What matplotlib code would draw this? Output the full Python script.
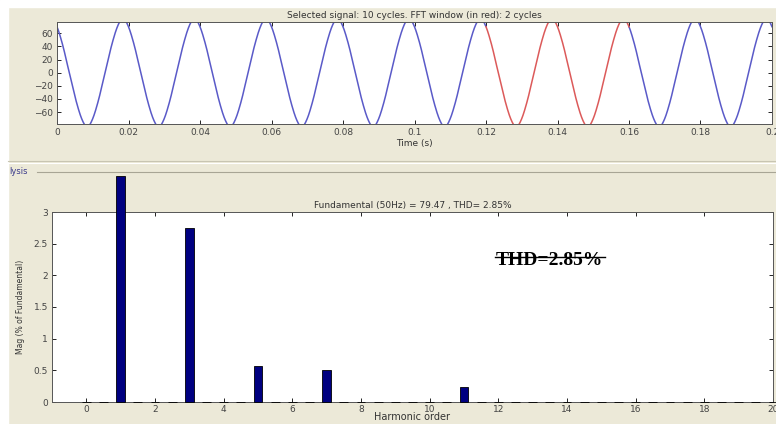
import numpy as np
import matplotlib
matplotlib.use("Agg")
import matplotlib.pyplot as plt

# signal settings
fundamental_amp = 79.47
fund_freq = 50.0
phase_deg = 28.0
t_end = 0.2
fft_window = (0.12, 0.16)

# harmonic spectrum (% of fundamental)
harm_orders = [1, 3, 5, 7, 11]
harm_mags = [3.57, 2.74, 0.57, 0.50, 0.23]
thd = 2.85

time_ticks = [0, 0.02, 0.04, 0.06, 0.08, 0.1, 0.12, 0.14, 0.16, 0.18, 0.2]
sig_ticks = [-60, -40, -20, 0, 20, 40, 60]
order_ticks = [0, 2, 4, 6, 8, 10, 12, 14, 16, 18, 20]
mag_ticks = [0, 0.5, 1, 1.5, 2, 2.5, 3]

bg = "#ece9d8"
blue_line = "#5a5ac8"
red_line = "#dc5a5a"
bar_color = "#000080"

plt.rcParams["font.family"] = ["DejaVu Sans"]

fig = plt.figure(figsize=(7.76, 4.24), dpi=100, facecolor=bg)
W, H = 776, 424


def px_axes(l, t, r, b):
    return fig.add_axes([l / W, 1 - b / H, (r - l) / W, (b - t) / H])


# white margin on top/left
fig.patches.append(plt.Rectangle((0, 1 - 7 / H), 1, 7 / H, transform=fig.transFigure,
                                 color="white", zorder=0))
fig.patches.append(plt.Rectangle((0, 0), 8 / W, 1, transform=fig.transFigure,
                                 color="white", zorder=0))

# panel separators
for y, c in [(161, "#c8c5b2"), (163, "#ffffff"), (172, "#a8a595")]:
    fig.add_artist(plt.Line2D([8 / W if y != 172 else 37 / W, 1], [1 - y / H] * 2,
                              transform=fig.transFigure, color=c, lw=0.8))
fig.text(9 / W, 1 - 171 / H, "lysis", fontsize=6, color="#3a3a8a", va="center")

# ---- time signal ----
ax1 = px_axes(57, 22, 772, 124)
t = np.linspace(0, t_end, 4001)
sig = fundamental_amp * np.cos(2 * np.pi * fund_freq * t + np.radians(phase_deg))
for h, m in zip(harm_orders[1:], harm_mags[1:]):
    sig += fundamental_amp * m / 100 * np.cos(2 * np.pi * fund_freq * h * t + np.radians(phase_deg) * h)

win = (t >= fft_window[0]) & (t <= fft_window[1])
ax1.plot(np.where(t <= fft_window[0], t, np.nan), sig, color=blue_line, lw=1.1)
ax1.plot(np.where(t >= fft_window[1], t, np.nan), sig, color=blue_line, lw=1.1)
ax1.plot(t[win], sig[win], color=red_line, lw=1.1)
ax1.set_xlim(0, t_end)
ax1.set_ylim(-78, 77)
ax1.set_xticks(time_ticks)
ax1.set_xticklabels(["0", "0.02", "0.04", "0.06", "0.08", "0.1", "0.12", "0.14",
                     "0.16", "0.18", "0.2"])
ax1.set_yticks(sig_ticks)
ax1.set_title("Selected signal: 10 cycles. FFT window (in red): 2 cycles",
              fontsize=6.5, color="#333333", pad=3)
ax1.set_xlabel("Time (s)", fontsize=6.5, color="#333333", labelpad=1)

# ---- harmonic spectrum ----
ax2 = px_axes(52, 212, 773, 402)
orders = np.arange(0, 20.5, 0.5)
mags = np.zeros_like(orders)
for h, m in zip(harm_orders, harm_mags):
    mags[orders == h] = m
ax2.bar(orders, mags, width=0.26, color=bar_color, edgecolor="black", lw=0.6,
        clip_on=False, zorder=3)
ax2.set_xlim(-1, 20)
ax2.set_ylim(0, 3)
ax2.set_xticks(order_ticks)
ax2.set_yticks(mag_ticks)
ax2.set_yticklabels(["0", "0.5", "1", "1.5", "2", "2.5", "3"])
ax2.set_title("Fundamental (50Hz) = 79.47 , THD= 2.85%", fontsize=6.5,
              color="#333333", pad=3)
ax2.set_xlabel("Harmonic order", fontsize=7, color="#333333", labelpad=-1)
ax2.set_ylabel("Mag (% of Fundamental)", fontsize=5.5, color="#333333", labelpad=6)

ax2.text(0.69, 0.721, "THD=%.2f%%" % thd, transform=ax2.transAxes, ha="center",
         va="baseline", fontsize=14, fontweight="bold", family="Liberation Serif")
ax2.plot([0.615, 0.767], [0.763, 0.763], transform=ax2.transAxes, color="black",
         lw=1.0)

for ax in (ax1, ax2):
    ax.set_facecolor("white")
    ax.tick_params(direction="in", length=3, width=0.6, labelsize=6.5,
                   labelcolor="#444444", top=True, right=True, pad=3)
    for s in ax.spines.values():
        s.set_color("#555555")
        s.set_linewidth(0.7)
ax2.tick_params(axis="x", pad=2)

fig.savefig("out.png", dpi=100, facecolor=bg)
